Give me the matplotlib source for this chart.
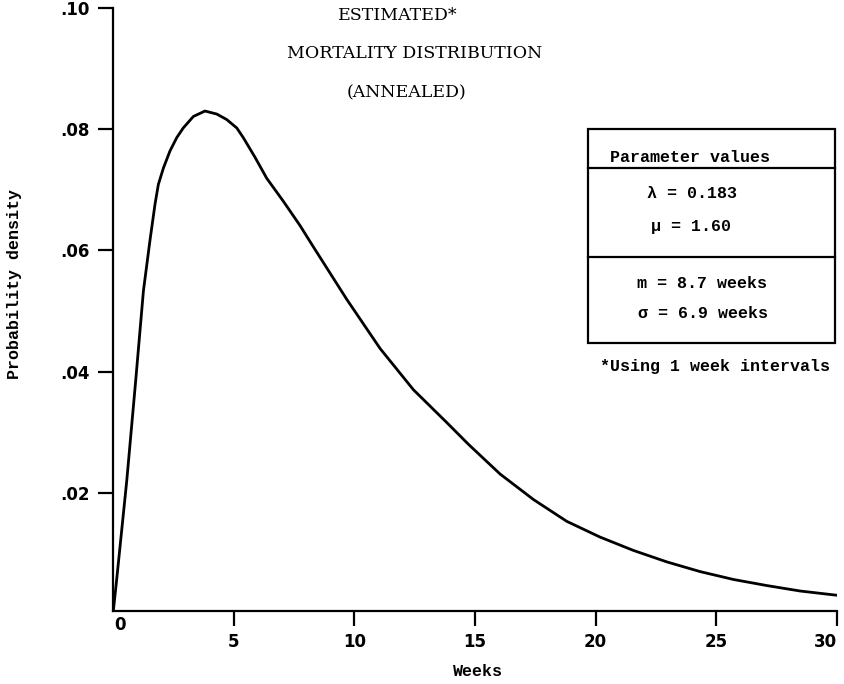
import numpy as np
import matplotlib
matplotlib.use("Agg")
import matplotlib.pyplot as plt
from matplotlib.lines import Line2D
from matplotlib.patches import Rectangle

# Curve (weeks, probability density)
weeks = [0.0, 0.15, 0.57, 0.94, 1.26, 1.53, 1.74, 1.88, 2.09, 2.36, 2.64,
         2.91, 3.33, 3.81, 4.30, 4.71, 5.13, 5.40, 5.88, 6.37, 7.06, 7.75,
         8.30, 9.69, 11.07, 12.45, 13.83, 14.73, 16.04, 17.42, 18.80, 20.18,
         21.56, 22.95, 24.33, 25.71, 27.09, 28.47, 29.99]
density = [0.0, 0.0056, 0.022, 0.0385, 0.0533, 0.0616, 0.0676, 0.0709,
           0.0736, 0.0764, 0.0786, 0.0802, 0.0821, 0.0830, 0.0825, 0.0816,
           0.0802, 0.0786, 0.0754, 0.0719, 0.0681, 0.0641, 0.0606, 0.0519,
           0.0438, 0.0370, 0.0316, 0.0280, 0.0231, 0.0189, 0.0153, 0.0127,
           0.0105, 0.0086, 0.0070, 0.0057, 0.0047, 0.0038, 0.0031]

x_ticks = [5, 10, 15, 20, 25, 30]
y_ticks = [0.02, 0.04, 0.06, 0.08, 0.10]
y_tick_labels = ['.02', '.04', '.06', '.08', '.10']

title_lines = ['ESTIMATED*', 'MORTALITY DISTRIBUTION', '(ANNEALED)']
param_lines = ['\u03bb = 0.183', '\u03bc = 1.60']
moment_lines = ['m = 8.7 weeks', '\u03c3 = 6.9 weeks']

W, H = 844, 684
mono = 'Liberation Mono'
hand = 'DejaVu Sans'

fig = plt.figure(figsize=(W / 100, H / 100), dpi=100)
ax = fig.add_axes([113 / W, 1 - 611 / H, (837 - 113) / W, (611 - 8) / H])

ax.plot(weeks, density, color='black', lw=2.0, solid_joinstyle='round',
        solid_capstyle='round')
ax.set_xlim(0, 30)
ax.set_ylim(0.0005, 0.10)

for s in ['top', 'right']:
    ax.spines[s].set_visible(False)
for s in ['left', 'bottom']:
    ax.spines[s].set_linewidth(1.6)

ax.set_xticks(x_ticks)
ax.set_xticklabels([str(t) for t in x_ticks], fontfamily=hand,
                   fontweight='bold', fontsize=12)
ax.get_xticklabels()[-1].set_horizontalalignment('right')
ax.set_yticks(y_ticks)
ax.set_yticklabels(y_tick_labels, fontfamily=hand, fontweight='bold',
                   fontsize=12)
ax.tick_params(axis='both', direction='out', length=11, width=1.6, pad=5)
ax.tick_params(axis='y', pad=6)

# lone "0" under the origin
fig.text(120 / W, 1 - 625 / H, '0', fontfamily=hand, fontweight='bold',
         fontsize=12, ha='center', va='center')

fig.text(15 / W, 1 - 284 / H, 'Probability density', rotation=90,
         fontfamily=mono, fontweight='bold', fontsize=12,
         ha='center', va='center')
fig.text(478 / W, 1 - 672 / H, 'Weeks', fontfamily=mono, fontweight='bold',
         fontsize=12, ha='center', va='center')

for line, cx, cy in zip(title_lines, [398, 415, 406], [16, 54, 93]):
    fig.text(cx / W, 1 - cy / H, line, fontfamily='DejaVu Serif',
             fontsize=12.5, ha='center', va='center')

# parameter box
bx0, bx1, by0, by1 = 588, 835, 129, 343
fig.add_artist(Rectangle((bx0 / W, 1 - by1 / H), (bx1 - bx0) / W,
                         (by1 - by0) / H, transform=fig.transFigure,
                         fill=False, lw=1.6, ec='black'))
for yy in [168, 257]:
    fig.add_artist(Line2D([bx0 / W, bx1 / W], [1 - yy / H, 1 - yy / H],
                          transform=fig.transFigure, color='black', lw=1.6))

fig.text(610 / W, 1 - 157 / H, 'Parameter values', fontfamily=mono,
         fontweight='bold', fontsize=12, ha='left', va='center')
for line, lx, cy in zip(param_lines, [647, 651], [193, 226]):
    fig.text(lx / W, 1 - cy / H, line, fontfamily=mono, fontweight='bold',
             fontsize=12, ha='left', va='center')
for line, lx, cy in zip(moment_lines, [637, 638], [283, 314]):
    fig.text(lx / W, 1 - cy / H, line, fontfamily=mono, fontweight='bold',
             fontsize=12, ha='left', va='center')
fig.text(600 / W, 1 - 367 / H, '*Using 1 week intervals', fontfamily=mono,
         fontweight='bold', fontsize=12, ha='left', va='center')

fig.savefig('out.png', dpi=100, facecolor='white')
